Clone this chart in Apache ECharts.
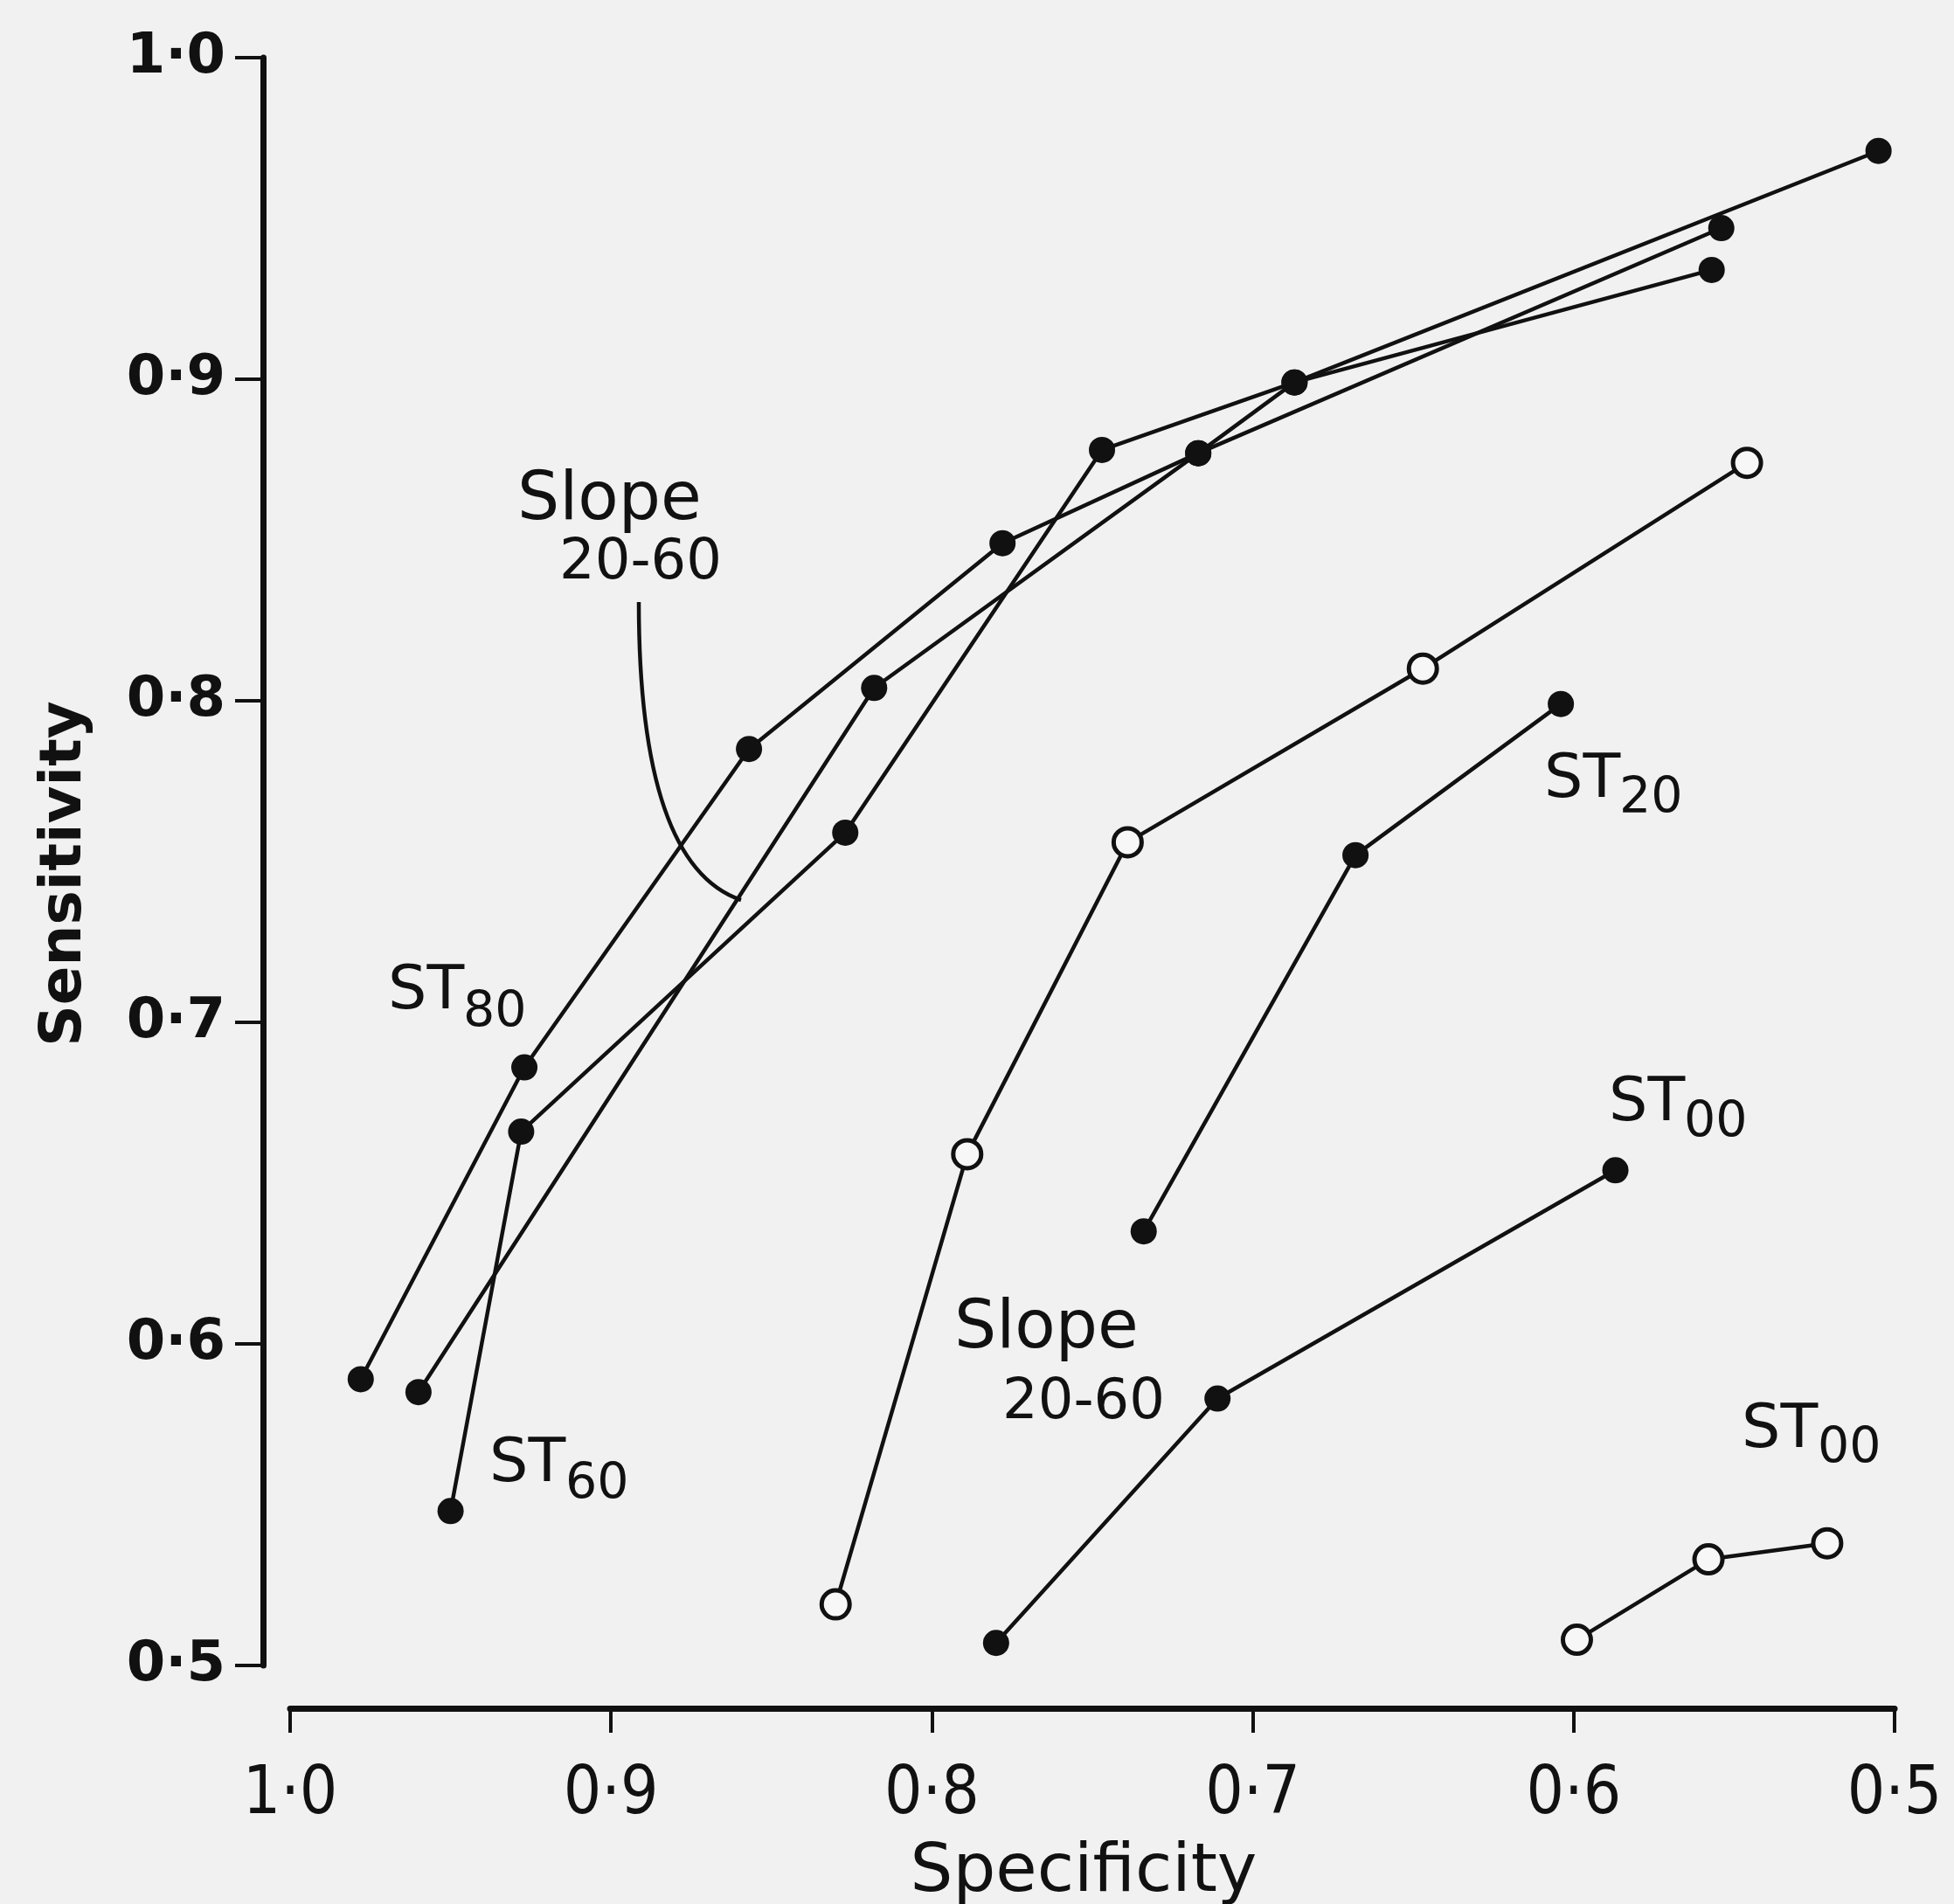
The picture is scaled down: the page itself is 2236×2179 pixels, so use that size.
<!DOCTYPE html>
<html><head><meta charset="utf-8">
<script src="https://cdn.jsdelivr.net/npm/echarts/dist/echarts.min.js"></script>
<style>html,body{margin:0;padding:0;background:#f1f1f1}#c{width:2236px;height:2179px}</style>
</head><body><div id="c"></div>
<script>
// Data (specificity, sensitivity)
const xTickValues = [1.0, 0.9, 0.8, 0.7, 0.6, 0.5];
const yTickValues = [1.0, 0.9, 0.8, 0.7, 0.6, 0.5];
const st80Spec = [0.978, 0.927, 0.857, 0.778, 0.717, 0.554];
const st80Sens = [0.589, 0.686, 0.785, 0.849, 0.877, 0.947];
const st60Spec = [0.950, 0.928, 0.827, 0.747, 0.687, 0.505];
const st60Sens = [0.548, 0.666, 0.759, 0.878, 0.899, 0.971];
const slopeFilledSpec = [0.960, 0.818, 0.717, 0.687, 0.557];
const slopeFilledSens = [0.585, 0.804, 0.877, 0.899, 0.934];
const st20Spec = [0.734, 0.668, 0.604];
const st20Sens = [0.635, 0.752, 0.799];
const st00FilledSpec = [0.780, 0.711, 0.587];
const st00FilledSens = [0.507, 0.583, 0.654];
const slopeOpenSpec = [0.830, 0.789, 0.739, 0.647, 0.546];
const slopeOpenSens = [0.519, 0.659, 0.756, 0.810, 0.874];
const st00OpenSpec = [0.599, 0.558, 0.521];
const st00OpenSens = [0.508, 0.533, 0.538];

const INK = '#111111';
const chart = echarts.init(document.getElementById('c'), null, {renderer: 'canvas'});

function mk(name, xs, ys, open) {
  return {
    type: 'line', name: name,
    data: xs.map((x, i) => [x, ys[i]]),
    symbol: 'circle', symbolSize: open ? 32 : 30,
    showAllSymbol: true,
    lineStyle: {color: INK, width: 4.5},
    itemStyle: open ? {color: '#f7f7f7', borderColor: INK, borderWidth: 5, opacity: 1}
                    : {color: INK, borderWidth: 0, opacity: 1},
    emphasis: {disabled: true}, silent: true, animation: false, z: open ? 4 : 3
  };
}
function fmt(v) { return (Math.round(v * 10) / 10).toFixed(1).replace('.', '·'); }

const annFont = '"DejaVu Sans", sans-serif';
function txt(t, x, y, size) {
  return {type: 'text', x: x, y: y, silent: true,
    style: {text: t, font: size + 'px ' + annFont, fill: INK, textAlign: 'left', textVerticalAlign: 'middle', align: 'left', verticalAlign: 'middle'}};
}

chart.setOption({
  backgroundColor: '#f1f1f1',
  animation: false,
  grid: {left: 332, right: 68, top: 66, bottom: 273, containLabel: false, outerBoundsMode: 'none'},
  xAxis: {
    type: 'value', min: 0.5, max: 1.0, interval: 0.1, inverse: true,
    offset: 49,
    name: 'Specificity', nameLocation: 'middle', nameGap: 150,
    nameTextStyle: {fontFamily: 'DejaVu Sans', fontSize: 77, color: INK, padding: [0, 20, 0, 0]},
    axisLine: {show: true, lineStyle: {color: INK, width: 7}},
    axisTick: {show: true, length: 28, inside: false, lineStyle: {color: INK, width: 4}},
    axisLabel: {show: true, margin: 62, color: INK, fontSize: 76,
      fontFamily: '"DejaVu Sans Condensed", "DejaVu Sans", sans-serif',
      formatter: fmt},
    splitLine: {show: false}
  },
  yAxis: {
    type: 'value', min: 0.5, max: 1.0, interval: 0.1,
    offset: 31,
    name: 'Sensitivity', nameLocation: 'middle', nameGap: 193, nameRotate: 90,
    nameTextStyle: {fontFamily: 'DejaVu Sans', fontWeight: 'bold', fontSize: 66, color: INK, padding: [0, 28, 0, 0]},
    axisLine: {show: true, lineStyle: {color: INK, width: 7}},
    axisTick: {show: true, length: 32, inside: false, lineStyle: {color: INK, width: 4}},
    axisLabel: {show: true, margin: 43, color: INK, fontSize: 64, fontWeight: 'bold',
      fontFamily: 'DejaVu Sans', formatter: fmt},
    splitLine: {show: false}
  },
  series: [
    mk('ST80', st80Spec, st80Sens, false),
    mk('ST60', st60Spec, st60Sens, false),
    mk('Slope 20-60', slopeFilledSpec, slopeFilledSens, false),
    mk('ST20', st20Spec, st20Sens, false),
    mk('ST00', st00FilledSpec, st00FilledSens, false),
    mk('Slope 20-60 (open)', slopeOpenSpec, slopeOpenSens, true),
    mk('ST00 (open)', st00OpenSpec, st00OpenSens, true)
  ],
  graphic: [
    txt('Slope', 592, 574, 76), txt('20-60', 640, 645, 64),
    {type: 'bezierCurve', silent: true,
     shape: {x1: 731, y1: 689, cpx1: 731, cpy1: 990, x2: 848, y2: 1030},
     style: {stroke: INK, lineWidth: 4.5, fill: null}},
    txt('ST', 444, 1136, 70), txt('80', 530, 1160, 57),
    txt('ST', 560, 1677, 70), txt('60', 647, 1700, 57),
    txt('ST', 1767, 894, 70), txt('20', 1853, 915, 57),
    txt('ST', 1841, 1264, 70), txt('00', 1927, 1286, 57),
    txt('Slope', 1092, 1522, 76), txt('20-60', 1147, 1606, 64),
    txt('ST', 1993, 1638, 70), txt('00', 2080, 1659, 57)
  ]
});
</script></body></html>
